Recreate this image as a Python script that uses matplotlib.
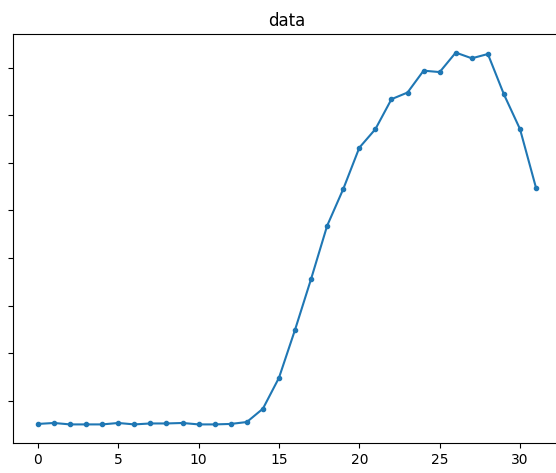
import matplotlib
matplotlib.use('Agg')
import matplotlib.pyplot as plt


# Values (y axis has no visible labels,
# so the units are the spacing between the y ticks).
x_values = list(range(32))
y_values = [
    0.51, 0.53, 0.50, 0.50, 0.50, 0.53, 0.50, 0.52,
    0.52, 0.53, 0.50, 0.50, 0.51, 0.55, 0.83, 1.48,
    2.49, 3.56, 4.68, 5.45, 6.32, 6.71, 7.34, 7.48,
    7.94, 7.91, 8.32, 8.20, 8.29, 7.44, 6.71, 5.47,
]
y_ticks = [1, 2, 3, 4, 5, 6, 7, 8]
x_ticks = [0, 5, 10, 15, 20, 25, 30]

save_file_name = 'out.png'


def main():
    fig = plt.figure(figsize=(5.56, 4.73), dpi=100)
    # The reference is cropped: y tick labels and the right spine fall outside.
    ax = fig.add_axes([13 / 556, 30 / 473, 548 / 556, 409 / 473])

    ax.plot(x_values, y_values, marker='.', color='#1f77b4')

    ax.set_title('data')
    ax.set_xticks(x_ticks)
    ax.set_yticks(y_ticks)
    ax.set_yticklabels([])

    fig.savefig(save_file_name, dpi=100)


if __name__ == "__main__":
    main()
